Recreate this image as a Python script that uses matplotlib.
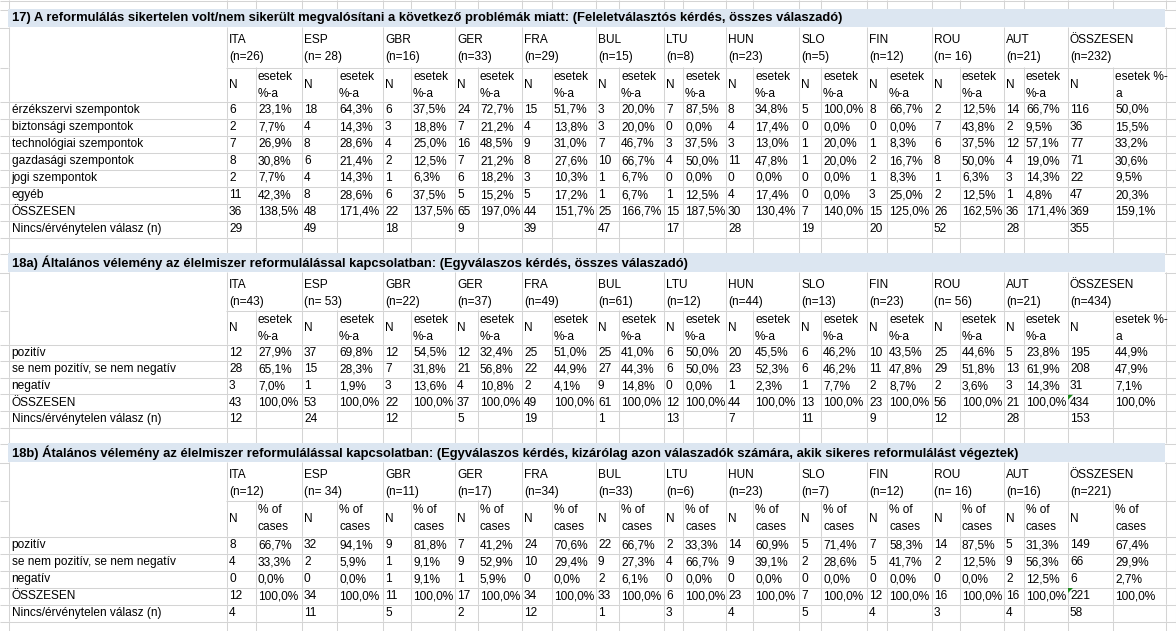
import matplotlib.pyplot as plt
from matplotlib.patches import Rectangle, Polygon

countries = ['ITA', 'ESP', 'GBR', 'GER', 'FRA', 'BUL', 'LTU', 'HUN', 'SLO', 'FIN', 'ROU', 'AUT', 'ÖSSZESEN']

# --- 17) ---
q17_title = ("17) A reformulálás sikertelen volt/nem sikerült megvalósítani a következő problémák miatt: "
             "(Feleletválasztós kérdés, összes válaszadó)")
q17_n = ['(n=26)', '(n= 28)', '(n=16)', '(n=33)', '(n=29)', '(n=15)', '(n=8)', '(n=23)', '(n=5)',
         '(n=12)', '(n= 16)', '(n=21)', '(n=232)']
q17_rows = ['érzékszervi szempontok', 'biztonsági szempontok', 'technológiai szempontok',
            'gazdasági szempontok', 'jogi szempontok', 'egyéb', 'ÖSSZESEN']
q17_counts = [
    [6, 18, 6, 24, 15, 3, 7, 8, 5, 8, 2, 14, 116],
    [2, 4, 3, 7, 4, 3, 0, 4, 0, 0, 7, 2, 36],
    [7, 8, 4, 16, 9, 7, 3, 3, 1, 1, 6, 12, 77],
    [8, 6, 2, 7, 8, 10, 4, 11, 1, 2, 8, 4, 71],
    [2, 4, 1, 6, 3, 1, 0, 0, 0, 1, 1, 3, 22],
    [11, 8, 6, 5, 5, 1, 1, 4, 0, 3, 2, 1, 47],
    [36, 48, 22, 65, 44, 25, 15, 30, 7, 15, 26, 36, 369],
]
q17_pct = [
    [23.1, 64.3, 37.5, 72.7, 51.7, 20.0, 87.5, 34.8, 100.0, 66.7, 12.5, 66.7, 50.0],
    [7.7, 14.3, 18.8, 21.2, 13.8, 20.0, 0.0, 17.4, 0.0, 0.0, 43.8, 9.5, 15.5],
    [26.9, 28.6, 25.0, 48.5, 31.0, 46.7, 37.5, 13.0, 20.0, 8.3, 37.5, 57.1, 33.2],
    [30.8, 21.4, 12.5, 21.2, 27.6, 66.7, 50.0, 47.8, 20.0, 16.7, 50.0, 19.0, 30.6],
    [7.7, 14.3, 6.3, 18.2, 10.3, 6.7, 0.0, 0.0, 0.0, 8.3, 6.3, 14.3, 9.5],
    [42.3, 28.6, 37.5, 15.2, 17.2, 6.7, 12.5, 17.4, 0.0, 25.0, 12.5, 4.8, 20.3],
    [138.5, 171.4, 137.5, 197.0, 151.7, 166.7, 187.5, 130.4, 140.0, 125.0, 162.5, 171.4, 159.1],
]
q17_missing = [29, 49, 18, 9, 39, 47, 17, 28, 19, 20, 52, 28, 355]

# --- 18a) ---
q18a_title = ("18a) Általános vélemény az élelmiszer reformulálással kapcsolatban: "
              "(Egyválaszos kérdés, összes válaszadó)")
q18a_n = ['(n=43)', '(n= 53)', '(n=22)', '(n=37)', '(n=49)', '(n=61)', '(n=12)', '(n=44)', '(n=13)',
          '(n=23)', '(n= 56)', '(n=21)', '(n=434)']
q18_rows = ['pozitív', 'se nem pozitív, se nem negatív', 'negatív', 'ÖSSZESEN']
q18a_counts = [
    [12, 37, 12, 12, 25, 25, 6, 20, 6, 10, 25, 5, 195],
    [28, 15, 7, 21, 22, 27, 6, 23, 6, 11, 29, 13, 208],
    [3, 1, 3, 4, 2, 9, 0, 1, 1, 2, 2, 3, 31],
    [43, 53, 22, 37, 49, 61, 12, 44, 13, 23, 56, 21, 434],
]
q18a_pct = [
    [27.9, 69.8, 54.5, 32.4, 51.0, 41.0, 50.0, 45.5, 46.2, 43.5, 44.6, 23.8, 44.9],
    [65.1, 28.3, 31.8, 56.8, 44.9, 44.3, 50.0, 52.3, 46.2, 47.8, 51.8, 61.9, 47.9],
    [7.0, 1.9, 13.6, 10.8, 4.1, 14.8, 0.0, 2.3, 7.7, 8.7, 3.6, 14.3, 7.1],
    [100.0] * 13,
]
q18a_missing = [12, 24, 12, 5, 19, 1, 13, 7, 11, 9, 12, 28, 153]

# --- 18b) ---
q18b_title = ("18b) Átalános vélemény az élelmiszer reformulálással kapcsolatban: (Egyválaszos kérdés, "
              "kizárólag azon válaszadók számára, akik sikeres reformulálást végeztek)")
q18b_n = ['(n=12)', '(n= 34)', '(n=11)', '(n=17)', '(n=34)', '(n=33)', '(n=6)', '(n=23)', '(n=7)',
          '(n=12)', '(n= 16)', '(n=16)', '(n=221)']
q18b_counts = [
    [8, 32, 9, 7, 24, 22, 2, 14, 5, 7, 14, 5, 149],
    [4, 2, 1, 9, 10, 9, 4, 9, 2, 5, 2, 9, 66],
    [0, 0, 1, 1, 0, 2, 0, 0, 0, 0, 0, 2, 6],
    [12, 34, 11, 17, 34, 33, 6, 23, 7, 12, 16, 16, 221],
]
q18b_pct = [
    [66.7, 94.1, 81.8, 41.2, 70.6, 66.7, 33.3, 60.9, 71.4, 58.3, 87.5, 31.3, 67.4],
    [33.3, 5.9, 9.1, 52.9, 29.4, 27.3, 66.7, 39.1, 28.6, 41.7, 12.5, 56.3, 29.9],
    [0.0, 0.0, 9.1, 5.9, 0.0, 6.1, 0.0, 0.0, 0.0, 0.0, 0.0, 12.5, 2.7],
    [100.0] * 13,
]
q18b_missing = [4, 11, 5, 2, 12, 1, 3, 4, 5, 4, 3, 4, 58]

missing_label = 'Nincs/érvénytelen válasz (n)'

# ---- layout (pixels) ----
W, H = 1176, 631
FONT = 'Liberation Sans'
GRID = '#d4d4d4'
BAND = '#dce6f1'

col_w = [8, 218, 29, 46, 35, 46, 28, 44, 23, 44, 30, 44, 23, 45, 19, 43, 27, 46, 22, 46, 20, 45,
         28, 44, 20, 44, 45, 53]
xb = [0]
for w in col_w:
    xb.append(xb[-1] + w)
band_x0, band_x1 = xb[1], xb[-1]
inner = set(xb[3:-1:2])  # boundary between N and % columns

fig = plt.figure(figsize=(W / 100, H / 100), dpi=100)
ax = fig.add_axes([0, 0, 1, 1])
ax.set_xlim(0, W)
ax.set_ylim(H, 0)
ax.axis('off')

renderer = fig.canvas.get_renderer()


def fit_size(s, target, weight='normal'):
    t = fig.text(0, 0, s, fontsize=10, family=FONT, weight=weight)
    w = t.get_window_extent(renderer).width
    t.remove()
    return 10 * target / w


fs = fit_size('érzékszervi szempontok', 128)
fs_title = fit_size(q17_title, 832, 'bold')


def txt(x, y, s, **kw):
    ax.text(x, y, s, fontsize=kw.pop('size', fs), family=FONT, va='center', ha='left',
            color='black', **kw)


def pct(v):
    return f'{v:.1f}'.replace('.', ',') + '%'


def hline(y, x0=0, x1=W):
    ax.plot([x0, x1], [y + 0.5, y + 0.5], color=GRID, lw=0.75, zorder=1, solid_capstyle='butt')


def vlines(y0, y1, skip_inner=False):
    for x in xb[1:]:
        if skip_inner and x in inner:
            continue
        ax.plot([x + 0.5, x + 0.5], [y0, y1], color=GRID, lw=0.75, zorder=1, solid_capstyle='butt')
    ax.plot([W - 0.5, W - 0.5], [y0, y1], color=GRID, lw=0.75, zorder=1)


def empty_row(y0, y1):
    hline(y1)
    vlines(y0, y1)


def section(top, title, n_labels, pct_head, pct_head_total, row_labels, counts, pcts, missing,
            title_h, head_h, sub_h, row_h, flag_total=False):
    y = top
    # title band
    ax.add_patch(Rectangle((band_x0, y), band_x1 - band_x0, title_h, color=BAND, zorder=2, lw=0))
    ax.plot([0, band_x0], [y + title_h + 0.5] * 2, color=GRID, lw=0.75, zorder=1)
    ax.plot([band_x1, W], [y + title_h + 0.5] * 2, color=GRID, lw=0.75, zorder=1)
    ax.plot([W - 0.5] * 2, [y, y + title_h], color=GRID, lw=0.75, zorder=1)
    txt(band_x0 + 3.5, y + title_h / 2 + 0.5, title, size=fs_title, weight='bold', zorder=3)
    y += title_h
    # country header (merged pairs)
    vlines(y, y + head_h, skip_inner=True)
    hline(y + head_h, 0, band_x0)
    hline(y + head_h, xb[2], W)
    for i, (c, n) in enumerate(zip(countries, n_labels)):
        x = xb[2 + 2 * i] + 3
        txt(x, y + 13, c)
        txt(x, y + 30, n)
    y += head_h
    # N / % sub header
    vlines(y, y + sub_h)
    hline(y + sub_h)
    for i in range(len(countries)):
        txt(xb[2 + 2 * i] + 3, y + sub_h / 2 + 1, 'N')
        head = pct_head_total if i == len(countries) - 1 else pct_head
        l1, l2 = head.split('\n')
        txt(xb[3 + 2 * i] + 3, y + 10, l1)
        txt(xb[3 + 2 * i] + 3, y + 27, l2)
    y += sub_h
    # data rows
    for lab, cnt, pc in zip(row_labels, counts, pcts):
        vlines(y, y + row_h)
        hline(y + row_h)
        txt(band_x0 + 3.5, y + row_h / 2 + 0.5, lab)
        for i, (n, p) in enumerate(zip(cnt, pc)):
            txt(xb[2 + 2 * i] + 3, y + row_h / 2 + 0.5, str(n))
            txt(xb[3 + 2 * i] + 3, y + row_h / 2 + 0.5, pct(p))
        if flag_total and lab == 'ÖSSZESEN':
            x0 = xb[-3] + 1
            ax.add_patch(Polygon([[x0, y + 1], [x0 + 5, y + 1], [x0, y + 6]], color='#1f8a1f',
                                 lw=0, zorder=3))
        y += row_h
    vlines(y, y + row_h)
    hline(y + row_h)
    txt(band_x0 + 3.5, y + row_h / 2 + 0.5, missing_label)
    for i, n in enumerate(missing):
        txt(xb[2 + 2 * i] + 3, y + row_h / 2 + 0.5, str(n))
    y += row_h
    return y


hline(0)
empty_row(0, 9)
y = section(9, q17_title, q17_n, 'esetek\n%-a', 'esetek %-\na', q17_rows, q17_counts, q17_pct,
            q17_missing, 18, 40, 34, 17)
empty_row(y, y + 16)
y = section(y + 16, q18a_title, q18a_n, 'esetek\n%-a', 'esetek %-\na', q18_rows, q18a_counts, q18a_pct,
            q18a_missing, 19, 38, 34, 16.6, flag_total=True)
empty_row(y, y + 16)
y = section(y + 16, q18b_title, q18b_n, '% of\ncases', '% of\ncases', q18_rows, q18b_counts, q18b_pct,
            q18b_missing, 19, 38, 36, 17, flag_total=True)
empty_row(y, H)

fig.savefig('out.png', dpi=100)
